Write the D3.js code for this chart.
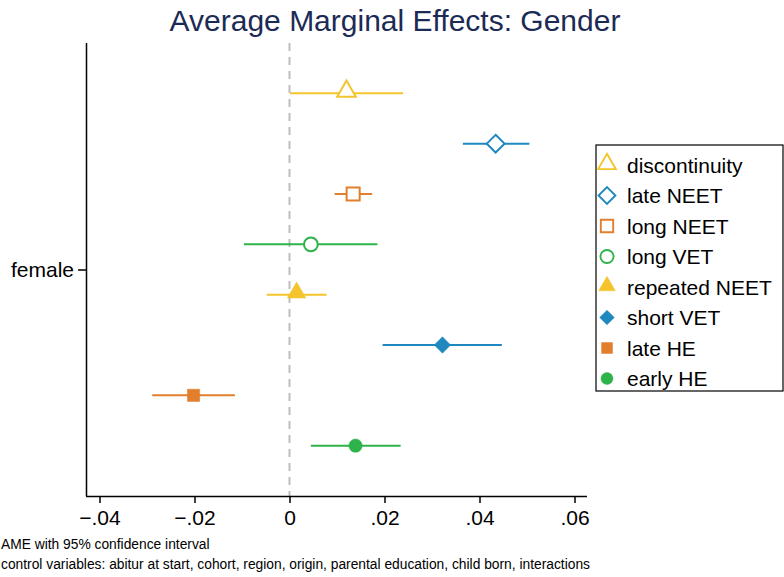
<!DOCTYPE html>
<html><head><meta charset="utf-8">
<script src="https://cdn.jsdelivr.net/npm/d3@7"></script>
<style>body{margin:0;background:#fff;} svg{display:block;font-family:"Liberation Sans",Arial,sans-serif;}</style>
</head><body><svg id="c" width="784" height="577"></svg>
<script>
const series = ["discontinuity","late NEET","long NEET","long VET","repeated NEET","short VET","late HE","early HE"];
const estimates = [0.0120, 0.0434, 0.0134, 0.0045, 0.0015, 0.0322, -0.0202, 0.0139];
const ciLow  = [0.0001, 0.0365, 0.0095, -0.0096, -0.0048, 0.0196, -0.0289, 0.0045];
const ciHigh = [0.0239, 0.0505, 0.0174, 0.0185, 0.0078, 0.0447, -0.0115, 0.0234];
const colors = ["#F5C42C","#1E88BF","#E27F2D","#2DB34A","#F5C42C","#1E88BF","#E27F2D","#2DB34A"];
const shapes = ["triangle","diamond","square","circle","triangle","diamond","square","circle"];
const filled = [false,false,false,false,true,true,true,true];
const categories = ["female"];
const xTicks = [-0.04,-0.02,0,0.02,0.04,0.06];
const xTickLabels = ["\u2212.04","\u2212.02","0",".02",".04",".06"];
const title = "Average Marginal Effects: Gender";
const notes = ["AME with 95% confidence interval","control variables: abitur at start, cohort, region, origin, parental education, child born, interactions"];

const svg = d3.select("#c");
const x = d3.scaleLinear().domain([0,0.02]).range([289.5,384.5]);
const yOff = d3.scaleLinear().domain([-4.5,4.5]).range([43,496]);
const yCat = d3.scalePoint().domain(categories).range([269.5,269.5]);
const plotLeft = 86, plotRight = 587, plotBottom = 496, plotTop = 43;

// title
svg.append("text").attr("x",395).attr("y",31).attr("text-anchor","middle")
  .attr("font-size",30).attr("fill","#1C2B55").text(title);

// zero reference line
svg.append("line").attr("x1",x(0)).attr("x2",x(0)).attr("y1",plotTop).attr("y2",plotBottom)
  .attr("stroke","#BDBDBD").attr("stroke-width",2).attr("stroke-dasharray","8,6");

// axes
const xAxis = d3.axisBottom(x).tickValues(xTicks).tickFormat((d,i)=>xTickLabels[i]).tickSize(7).tickSizeOuter(0);
const gx = svg.append("g").attr("transform",`translate(0,${plotBottom})`).call(xAxis);
gx.select(".domain").attr("d",`M${plotLeft},0.5H${plotRight}`).attr("stroke","#000").attr("stroke-width",1.5);
gx.selectAll(".tick line").attr("stroke","#000").attr("stroke-width",1.5);
gx.selectAll(".tick text").attr("font-size",21).attr("fill","#000").attr("dy","0.9em")
  .attr("font-family","'Liberation Sans',Arial,sans-serif");

const yAxis = d3.axisLeft(yCat).tickSize(8).tickSizeOuter(0);
const gy = svg.append("g").attr("transform",`translate(${plotLeft},0)`).call(yAxis);
gy.select(".domain").attr("d",`M0.5,${plotTop}V${plotBottom}`).attr("stroke","#000").attr("stroke-width",1.5);
gy.selectAll(".tick line").attr("stroke","#000").attr("stroke-width",1.5);
gy.selectAll(".tick text").attr("font-size",21).attr("fill","#000").attr("x",-12)
  .attr("font-family","'Liberation Sans',Arial,sans-serif");

function symPath(shape, isFilled){
  const sizes = isFilled
    ? {triangle:150, diamond:170, square:150, circle:140}
    : {triangle:150, diamond:200, square:170, circle:150};
  const t = {triangle:d3.symbolTriangle, diamond:d3.symbolDiamond2, square:d3.symbolSquare, circle:d3.symbolCircle}[shape];
  return d3.symbol().type(t).size(sizes[shape])();
}

const data = series.map((s,i)=>({s,i,est:estimates[i],lo:ciLow[i],hi:ciHigh[i]}));
const g = svg.append("g");
data.forEach(d=>{
  const yy = yCat("female") + (yOff(d.i-3.5) - yOff(0));
  g.append("line").attr("x1",x(d.lo)).attr("x2",x(d.hi)).attr("y1",yy).attr("y2",yy)
    .attr("stroke",colors[d.i]).attr("stroke-width",2);
  const dy = shapes[d.i]==="triangle" ? -2 : 0;
  g.append("path").attr("d",symPath(shapes[d.i],filled[d.i]))
    .attr("transform",`translate(${x(d.est)},${yy+dy})`)
    .attr("fill",filled[d.i]?colors[d.i]:"#fff")
    .attr("stroke",colors[d.i]).attr("stroke-width",filled[d.i]?0.5:2);
});

// legend
const lg = svg.append("g");
lg.append("rect").attr("x",596).attr("y",145).attr("width",187).attr("height",246)
  .attr("fill","#fff").attr("stroke","#000").attr("stroke-width",1.2);
series.forEach((s,i)=>{
  const ly = 165 + i*30.5;
  const dy = shapes[i]==="triangle" ? -1 : 0;
  lg.append("path").attr("d",symPath(shapes[i],filled[i]))
    .attr("transform",`translate(607,${ly+dy}) scale(${filled[i]?0.9:0.95})`)
    .attr("fill",filled[i]?colors[i]:"#fff")
    .attr("stroke",colors[i]).attr("stroke-width",filled[i]?0.5:2);
  lg.append("text").attr("x",627).attr("y",ly).attr("dy","0.36em")
    .attr("font-size",21).attr("fill","#000").text(s);
});

// notes
notes.forEach((n,i)=>{
  svg.append("text").attr("x",1).attr("y",549+i*20).attr("font-size",13.8).attr("fill","#000").text(n);
});
</script></body></html>
